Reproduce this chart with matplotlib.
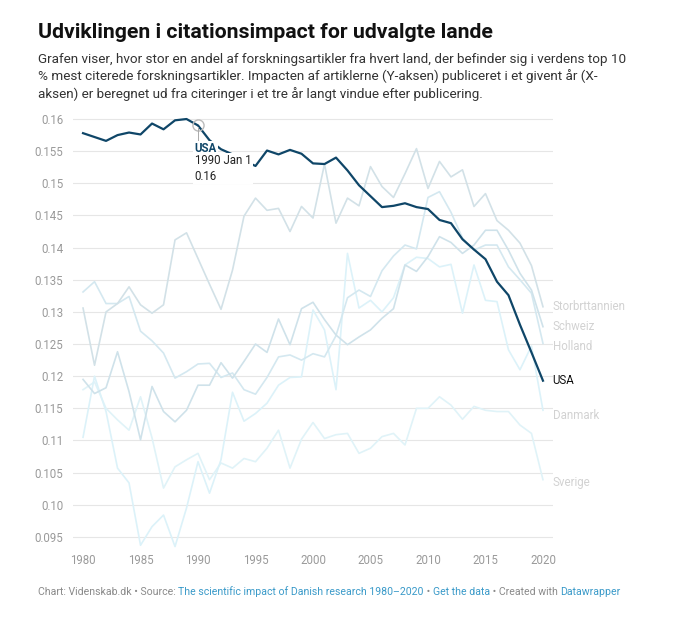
#!/usr/bin/env python3
"""Citation impact for selected countries, 1980-2020 (Datawrapper style line chart)"""

import matplotlib
matplotlib.use("Agg")
import matplotlib.pyplot as plt

years = list(range(1980, 2021))

usa = [0.1578, 0.1572, 0.1566, 0.1575, 0.1579, 0.1576, 0.1593, 0.1584, 0.1598, 0.1600,
       0.1590, 0.1567, 0.1553, 0.1545, 0.1535, 0.1527, 0.1551, 0.1545, 0.1552, 0.1546,
       0.1531, 0.1530, 0.1540, 0.1520, 0.1497, 0.1480, 0.1463, 0.1465, 0.1469, 0.1463,
       0.1460, 0.1443, 0.1438, 0.1413, 0.1397, 0.1382, 0.1347, 0.1326, 0.1280, 0.1237,
       0.1193]

storbritannien = [0.1306, 0.1217, 0.1300, 0.1313, 0.1339, 0.1311, 0.1298, 0.1311, 0.1412, 0.1423,
                  0.1383, 0.1343, 0.1304, 0.1365, 0.1449, 0.1477, 0.1458, 0.1461, 0.1425, 0.1464,
                  0.1446, 0.1530, 0.1438, 0.1477, 0.1465, 0.1526, 0.1495, 0.1478, 0.1515, 0.1554,
                  0.1492, 0.1534, 0.1510, 0.1521, 0.1464, 0.1484, 0.1442, 0.1427, 0.1407, 0.1372,
                  0.1308]

schweiz = [0.1195, 0.1173, 0.1182, 0.1238, 0.1176, 0.1101, 0.1184, 0.1145, 0.1129, 0.1147,
           0.1186, 0.1186, 0.1221, 0.1197, 0.1223, 0.1250, 0.1237, 0.1289, 0.1249, 0.1305,
           0.1315, 0.1288, 0.1264, 0.1249, 0.1261, 0.1272, 0.1290, 0.1305, 0.1373, 0.1363,
           0.1386, 0.1417, 0.1408, 0.1391, 0.1404, 0.1427, 0.1427, 0.1396, 0.1360, 0.1334,
           0.1277]

holland = [0.1331, 0.1347, 0.1313, 0.1313, 0.1324, 0.1270, 0.1255, 0.1236, 0.1197, 0.1207,
           0.1219, 0.1220, 0.1198, 0.1205, 0.1179, 0.1172, 0.1198, 0.1230, 0.1233, 0.1225,
           0.1235, 0.1230, 0.1263, 0.1322, 0.1334, 0.1324, 0.1364, 0.1387, 0.1404, 0.1398,
           0.1478, 0.1487, 0.1455, 0.1415, 0.1396, 0.1404, 0.1404, 0.1370, 0.1350, 0.1329,
           0.1251]

danmark = [0.1105, 0.1200, 0.1145, 0.1057, 0.1034, 0.0937, 0.0966, 0.0984, 0.0935, 0.0995,
           0.1067, 0.1018, 0.1070, 0.1175, 0.1130, 0.1142, 0.1158, 0.1186, 0.1198, 0.1199,
           0.1303, 0.1272, 0.1179, 0.1391, 0.1306, 0.1318, 0.1300, 0.1322, 0.1373, 0.1385,
           0.1383, 0.1370, 0.1374, 0.1298, 0.1373, 0.1318, 0.1316, 0.1241, 0.1210, 0.1247,
           0.1147]

sverige = [0.1179, 0.1191, 0.1150, 0.1132, 0.1116, 0.1168, 0.1104, 0.1026, 0.1059, 0.1070,
           0.1080, 0.1039, 0.1065, 0.1057, 0.1072, 0.1067, 0.1088, 0.1116, 0.1057, 0.1102,
           0.1128, 0.1103, 0.1109, 0.1111, 0.1080, 0.1088, 0.1106, 0.1111, 0.1093, 0.1150,
           0.1150, 0.1168, 0.1155, 0.1133, 0.1153, 0.1147, 0.1145, 0.1145, 0.1124, 0.1111,
           0.1039]

y_ticks = [0.095, 0.10, 0.105, 0.11, 0.115, 0.12, 0.125, 0.13, 0.135, 0.14, 0.145, 0.15, 0.155, 0.16]
y_tick_labels = ["0.095", "0.10", "0.105", "0.11", "0.115", "0.12", "0.125", "0.13",
                 "0.135", "0.14", "0.145", "0.15", "0.155", "0.16"]
x_ticks = [1980, 1985, 1990, 1995, 2000, 2005, 2010, 2015, 2020]

# background countries: (label, values, colour, label nudge in points)
others = [
    ("Sverige", sverige, "#e0f3f8", -2),
    ("Danmark", danmark, "#dcf2f9", -4),
    ("Holland", holland, "#d4e8f0", -2),
    ("Schweiz", schweiz, "#cfe2ea", 0),
    ("Storbrttannien", storbritannien, "#d2e1e7", 0),
]

plt.rcParams['font.family'] = ['Roboto', 'DejaVu Sans']

fig = plt.figure(figsize=(6.8, 6.18), dpi=100)
ax = fig.add_axes([0.1074, 0.1052, 0.7058, 0.7074])

for name, vals, col, nudge in others:
    ax.plot(years, vals, color=col, linewidth=1.2, zorder=2)
    ax.annotate(name, (years[-1], vals[-1]), xytext=(7, nudge), textcoords='offset points',
                va='center', ha='left', fontsize=8.3, color='#d2d2d2', annotation_clip=False)

ax.plot(years, usa, color='#0f4668', linewidth=1.6, zorder=4)
ax.annotate("USA", (years[-1], usa[-1]), xytext=(7, 0), textcoords='offset points',
            va='center', ha='left', fontsize=8.3, color='#111111', annotation_clip=False)

# hover tooltip at 1990
hx = years.index(1990)
ax.plot([years[hx]], [usa[hx]], marker='o', markersize=8, markerfacecolor='none',
        markeredgecolor='#bbbbbb', markeredgewidth=1.0, zorder=5)
ax.plot([years[hx], years[hx]], [usa[hx] - 0.0003, 0.1567], color='#aaaaaa', linewidth=0.7, zorder=5)
ax.text(years[hx] - 0.3, 0.1564, "USA", fontsize=8.3, fontweight='bold', color='#0f4668',
        va='top', ha='left', zorder=6,
        bbox=dict(facecolor='white', edgecolor='none', pad=1.0))
ax.text(years[hx] - 0.3, 0.1545, "1990 Jan 1\n0.16", fontsize=8.3, color='#222222',
        va='top', ha='left', linespacing=1.25, zorder=6,
        bbox=dict(facecolor='white', edgecolor='none', pad=1.0))

ax.set_xlim(1979.13, 2020.87)
ax.set_ylim(0.0925, 0.1605)
ax.set_yticks(y_ticks)
ax.set_yticklabels(y_tick_labels)
ax.set_xticks(x_ticks)
ax.tick_params(axis='both', length=0, labelsize=8.3, labelcolor='#9a9a9a')
ax.tick_params(axis='y', pad=7)
ax.tick_params(axis='x', pad=0.5)
ax.grid(axis='y', color='#e6e6e6', linewidth=0.8, zorder=0)
ax.set_axisbelow(True)
for s in ax.spines.values():
    s.set_visible(False)

# title, description
fig.text(38 / 680, 1 - 33 / 618, "Udviklingen i citationsimpact for udvalgte lande",
         fontsize=15.3, fontweight='bold', color='#111111', va='center', ha='left')
fig.text(38 / 680, 1 - 53 / 618,
         "Grafen viser, hvor stor en andel af forskningsartikler fra hvert land, der befinder sig i verdens top 10\n"
         "% mest citerede forskningsartikler. Impacten af artiklerne (Y-aksen) publiceret i et givent år (X-\n"
         "aksen) er beregnet ud fra citeringer i et tre år langt vindue efter publicering.",
         fontsize=9.7, color='#333333', va='top', ha='left', linespacing=1.3)

# footer with links
grey = '#8a8a8a'
blue = '#3a9ac9'
parts = [
    ("Chart: Videnskab.dk • Source: ", grey),
    ("The scientific impact of Danish research 1980–2020", blue),
    (" • ", grey),
    ("Get the data", blue),
    (" • Created with ", grey),
    ("Datawrapper", blue),
]
fig.canvas.draw()
renderer = fig.canvas.get_renderer()
xpos = 38 / 680
for txt, col in parts:
    t = fig.text(xpos, 1 - 592 / 618, txt, fontsize=7.6, color=col, va='center', ha='left')
    bb = t.get_window_extent(renderer=renderer)
    xpos += bb.width / fig.bbox.width

fig.savefig("out.png", dpi=100)
